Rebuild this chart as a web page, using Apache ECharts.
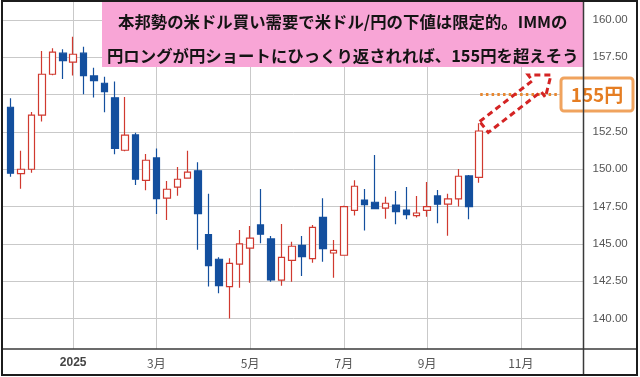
<!DOCTYPE html>
<html>
<head>
<meta charset="utf-8">
<script src="https://cdn.jsdelivr.net/npm/echarts@6/dist/echarts.min.js"></script>
<style>
html,body{margin:0;padding:0;background:#fff;}
#c{width:640px;height:377px;}
</style>
</head>
<body>
<div id="c"></div>
<script>
// Weekly USD/JPY candles (week starting Monday)
var weeks = ['2024-11-25','2024-12-02','2024-12-09','2024-12-16','2024-12-23','2024-12-30',
 '2025-01-06','2025-01-13','2025-01-20','2025-01-27','2025-02-03','2025-02-10','2025-02-17','2025-02-24',
 '2025-03-03','2025-03-10','2025-03-17','2025-03-24','2025-03-31','2025-04-07','2025-04-14','2025-04-21','2025-04-28',
 '2025-05-05','2025-05-12','2025-05-19','2025-05-26','2025-06-02','2025-06-09','2025-06-16','2025-06-23','2025-06-30',
 '2025-07-07','2025-07-14','2025-07-21','2025-07-28','2025-08-04','2025-08-11','2025-08-18','2025-08-25',
 '2025-09-01','2025-09-08','2025-09-15','2025-09-22','2025-09-29','2025-10-06'];
var openP  = [154.15,149.70,150.00,153.62,156.36,157.77,157.17,157.77,156.25,155.76,154.78,151.27,152.30,149.26,150.76,148.06,148.80,149.40,149.89,145.62,143.97,142.14,143.64,144.71,146.27,145.33,142.57,143.90,144.90,144.01,146.78,144.39,144.24,147.25,147.94,147.79,147.39,147.60,147.27,146.89,147.25,148.21,147.66,148.01,149.55,149.46];
var closeP = [149.73,150.00,153.62,156.36,157.84,157.27,157.70,156.27,155.93,155.20,151.40,152.28,149.33,150.60,148.03,148.66,149.33,149.80,147.03,143.54,142.20,143.70,145.00,145.38,145.65,142.58,144.10,144.84,144.15,146.11,144.68,144.57,147.50,148.86,147.63,147.36,147.72,147.16,146.96,147.07,147.50,147.66,148.01,149.53,147.50,152.56];
var lowP   = [149.50,148.70,149.77,153.19,156.30,156.05,156.27,155.02,154.80,153.82,151.00,151.20,148.95,148.60,147.00,146.60,148.23,149.38,144.60,142.14,141.70,140.00,142.07,142.40,145.04,142.47,142.20,142.47,142.85,143.74,143.81,142.74,144.20,146.90,145.89,147.34,146.69,146.32,146.65,146.76,146.82,146.38,145.55,147.50,146.65,149.10];
var highP  = [154.76,151.23,153.84,157.92,158.10,158.04,158.88,158.21,156.80,156.20,155.88,154.84,152.45,151.02,151.38,149.22,150.15,151.23,150.47,148.35,144.10,144.04,145.93,146.20,148.68,145.53,146.34,145.15,145.53,146.27,148.06,145.26,147.55,149.26,148.68,150.96,148.16,148.55,148.81,148.21,149.15,148.61,148.35,150.02,149.62,153.08];

// x-axis month labels at the first weekly candle of the month (week index)
var monthTickIdx = [6, 14, 23, 32, 40, 49];
var monthLabels  = ['2025', '3月', '5月', '7月', '9月', '11月'];
// y-axis tick labels
var priceTicks = [140, 142.5, 145, 147.5, 150, 152.5, 155, 157.5, 160];
var targetLevel = 155;
var titleLines = ['本邦勢の米ドル買い需要で米ドル/円の下値は限定的。IMMの',
                  '円ロングが円ショートにひっくり返されれば、155円を超えそう'];
var targetLabel = '155円';

var candleData = weeks.map(function (d, i) {
  return [i, openP[i], closeP[i], lowP[i], highP[i]];
});

var chart = echarts.init(document.getElementById('c'), null, {renderer: 'canvas'});

var RED = '#d0392f', BLUE = '#134f9e';

chart.setOption({
  animation: false,
  backgroundColor: '#fff',
  grid: {left: 3, right: 56.5, top: 2, bottom: 28, containLabel: false},
  xAxis: {
    type: 'value',
    min: -0.74,
    max: 55.02,
    axisLine: {show: false},
    axisTick: {show: false, customValues: monthTickIdx},
    splitLine: {show: true, customValues: monthTickIdx, lineStyle: {color: '#c9c9c9', width: 1}},
    axisLabel: {
      customValues: monthTickIdx,
      margin: 8,
      fontSize: 12,
      color: '#555',
      fontFamily: '"Noto Sans CJK JP", "Liberation Sans", sans-serif',
      formatter: function (v) {
        var k = monthTickIdx.indexOf(Math.round(v));
        if (k < 0) return '';
        return k === 0 ? '{b|' + monthLabels[k] + '}' : monthLabels[k];
      },
      rich: {b: {fontWeight: 'bold', color: '#444', fontSize: 12, fontFamily: '"Liberation Sans", sans-serif'}}
    }
  },
  yAxis: {
    type: 'value',
    position: 'right',
    min: 137.96,
    max: 161.2,
    scale: true,
    axisLine: {show: false},
    axisTick: {show: false, customValues: priceTicks},
    splitLine: {show: true, customValues: priceTicks, lineStyle: {color: '#c9c9c9', width: 1}},
    axisLabel: {
      customValues: priceTicks,
      margin: 9,
      fontSize: 11.5,
      color: '#555',
      fontFamily: '"Liberation Sans", sans-serif',
      formatter: function (v) { return v.toFixed(2); }
    }
  },
  series: [{
    type: 'candlestick',
    data: candleData,
    barWidth: 7,
    itemStyle: {
      color: '#ffffff',
      color0: BLUE,
      borderColor: RED,
      borderColor0: BLUE,
      borderWidth: 1.2
    },
    markLine: {
      silent: true,
      symbol: 'none',
      label: {show: false},
      lineStyle: {color: '#e8862e', width: 3, type: [2.5, 3.2], cap: 'butt'},
      data: [[{coord: [45.1, targetLevel]}, {coord: [52.8, targetLevel]}]]
    }
  }],
  graphic: [
    // pink annotation box
    {type: 'rect', z: 100, shape: {x: 102, y: 2, width: 481.5, height: 65}, style: {fill: '#f8a5d6'}},
    {type: 'text', z: 101, x: 342.75, y: 22, style: {text: titleLines[0], fill: '#141414', font: 'bold 16.4px "Noto Sans CJK JP", sans-serif', textAlign: 'center', textVerticalAlign: 'middle'}},
    {type: 'text', z: 101, x: 342.75, y: 56, style: {text: titleLines[1], fill: '#141414', font: 'bold 16.4px "Noto Sans CJK JP", sans-serif', textAlign: 'center', textVerticalAlign: 'middle'}},
    // 155円 callout
    {type: 'rect', z: 102, shape: {x: 561, y: 78, width: 72, height: 33, r: 3}, style: {fill: '#fff', stroke: '#f0a35e', lineWidth: 3}},
    {type: 'text', z: 103, x: 597, y: 95, style: {text: targetLabel, fill: '#e57d22', font: 'bold 19px "Noto Sans CJK JP", sans-serif', textAlign: 'center', textVerticalAlign: 'middle'}},
    // dashed block arrow
    {type: 'polygon', z: 104, shape: {points: [[479.7,121.5],[532.5,80.6],[528.2,75.0],[551,75],[545.4,97.2],[541.1,91.6],[488.3,132.5]]},
      style: {fill: 'none', stroke: '#d42424', lineWidth: 3, lineDash: [6, 4]}},
    // axis frame lines
    {type: 'line', z: 110, shape: {x1: 583.5, y1: 1, x2: 583.5, y2: 375}, style: {stroke: '#3a3a3a', lineWidth: 1.5}},
    {type: 'line', z: 110, shape: {x1: 2, y1: 349, x2: 637, y2: 349}, style: {stroke: '#3a3a3a', lineWidth: 1.5}},
    // outer border
    {type: 'rect', z: 111, shape: {x: 2, y: 1, width: 635, height: 374}, style: {fill: 'none', stroke: '#1c1c1c', lineWidth: 2}}
  ]
});
</script>
</body>
</html>
